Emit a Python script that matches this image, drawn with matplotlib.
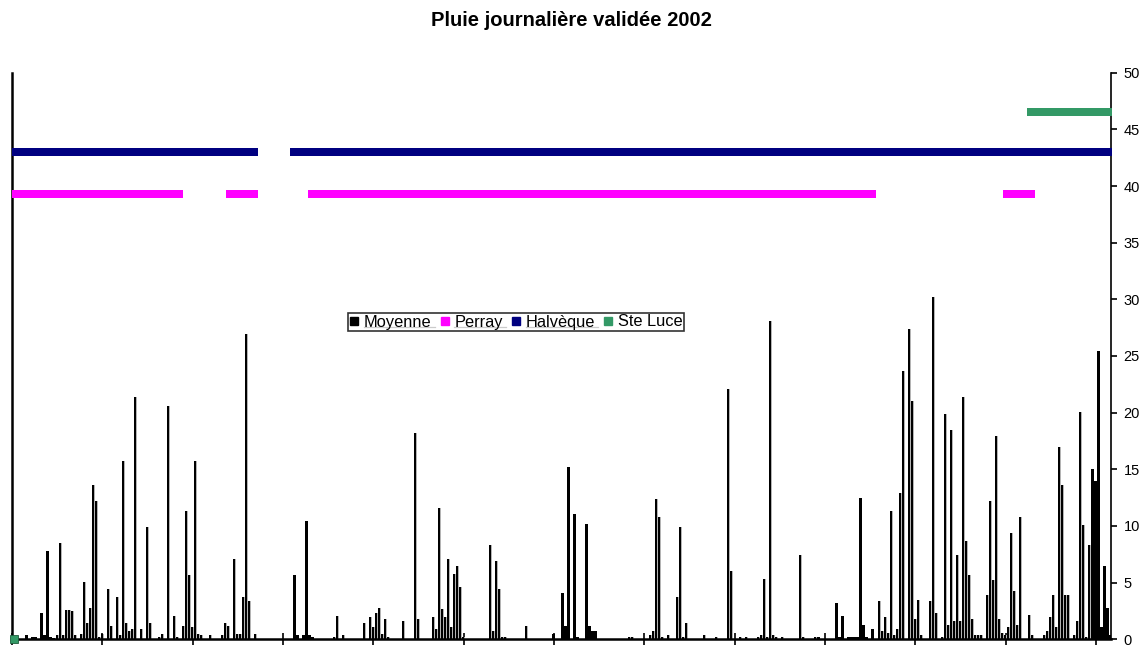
import matplotlib
matplotlib.use("Agg")
import matplotlib.pyplot as plt
import numpy as np
from matplotlib.lines import Line2D

plt.rcParams["font.family"] = ["Liberation Sans", "DejaVu Sans"]

TITLE = "Pluie journalière validée 2002"
N_DAYS = 365

# daily mean rainfall (mm), days with no rain are left out
RAIN_DAY = [
    4, 6, 7, 9, 10, 11, 12, 13, 14, 15, 16, 17, 18, 19, 20, 22, 23, 24, 25, 26,
    27, 28, 29, 31, 32, 34, 35, 36, 37, 38, 39, 40, 42, 44, 45, 48, 49, 51, 53, 54,
    56, 57, 58, 59, 60, 61, 62, 65, 69, 70, 71, 73, 74, 75, 76, 77, 78, 80,
    93, 94, 96, 97, 98, 99, 106, 107, 109, 116, 118, 119, 120, 121, 122, 123, 124,
    129, 133, 134, 139, 140, 141, 142, 143, 144, 145, 146, 147, 148, 149,
    158, 159, 160, 161, 162, 163, 170, 179, 182, 183, 184, 186, 187, 190, 191, 192, 193,
    204, 205, 211, 212, 213, 214, 215, 217, 220, 221, 222, 223, 229, 233, 237, 238,
    241, 243, 247, 248, 249, 250, 251, 252, 253, 255, 261, 262, 266, 267, 273, 274, 275,
    277, 278, 279, 280, 281, 282, 283, 285, 287, 288, 289, 290, 291, 292, 293, 294, 295,
    297, 298, 299, 300, 301, 304, 305, 306, 308, 309, 310, 311, 312, 313, 314, 315, 316,
    317, 318, 319, 320, 321, 323, 324, 325, 326, 327, 328, 329, 330, 331, 332, 333, 334,
    337, 338, 342, 343, 344, 345, 346, 347, 348, 349, 350, 352, 353, 354, 355, 356, 357,
    358, 359, 360, 361, 362, 363, 364,
]
RAIN_MM = [
    0.35, 0.2, 0.2, 2.3, 0.35, 7.8, 0.2, 0.15, 0.35, 8.5, 0.35, 2.6, 2.6, 2.5, 0.35, 0.5, 5.1, 1.4, 2.8, 13.6,
    12.2, 0.2, 0.5, 4.4, 1.2, 3.7, 0.35, 15.7, 1.4, 0.7, 0.9, 21.35, 0.9, 9.9, 1.4, 0.2, 0.5, 20.6, 2.1, 0.2,
    1.2, 11.3, 5.65, 1.06, 15.7, 0.5, 0.35, 0.35, 0.35, 1.4, 1.2, 7.06, 0.5, 0.5, 3.7, 26.9, 3.35, 0.5,
    5.65, 0.35, 0.35, 10.4, 0.35, 0.2, 0.2, 2.1, 0.35, 1.4, 1.94, 1.06, 2.3, 2.8, 0.5, 1.76, 0.2,
    1.6, 18.2, 1.76, 1.94, 0.9, 11.6, 2.65, 1.94, 7.06, 1.06, 5.8, 6.5, 4.6, 0.2,
    8.3, 0.7, 6.9, 4.4, 0.2, 0.2, 1.2, 0.5, 4.06, 1.2, 15.2, 11.1, 0.2, 10.2, 1.2, 0.7, 0.7,
    0.2, 0.2, 0.35, 0.7, 12.35, 10.8, 0.2, 0.35, 3.7, 9.9, 0.2, 1.4, 0.35, 0.2, 22.06, 6.0,
    0.2, 0.2, 0.2, 0.35, 5.3, 0.2, 28.1, 0.35, 0.2, 0.2, 7.4, 0.2, 0.2, 0.2, 3.2, 0.2, 2.1,
    0.2, 0.18, 0.18, 0.18, 12.5, 1.24, 0.18, 0.88, 3.35, 0.7, 1.94, 0.53, 11.3, 0.35, 0.88, 12.9, 23.65,
    27.35, 21.0, 1.76, 3.5, 0.35, 3.35, 30.2, 2.35, 0.18, 19.9, 1.24, 18.5, 1.6, 7.4, 1.6, 21.35, 8.65,
    5.7, 1.76, 0.35, 0.35, 0.35, 3.94, 12.2, 5.2, 17.9, 1.76, 0.53, 0.35, 1.06, 9.4, 4.3, 1.24, 10.8,
    2.18, 0.35, 0.35, 0.7, 1.94, 3.94, 1.06, 17.0, 13.65, 3.94, 3.94, 0.35, 1.6, 20.1, 10.06, 0.18, 8.35,
    15.0, 13.94, 25.4, 1.06, 6.5, 2.8, 0.35,
]

# validated-data periods per station: (first day, last day, plotted level)
PERRAY_PERIODS = [(0, 34, 39.3), (36, 55, 39.3), (72, 80, 39.3), (99, 285, 39.3), (330, 338, 39.3)]
HALVEQUE_PERIODS = [(0, 80, 43.0), (93, 364, 43.0)]
STE_LUCE_PERIODS = [(0, 0, 0.0), (338, 364, 46.5)]

COLORS = {
    "Moyenne": "#000000",
    "Perray": "#ff00ff",
    "Halvèque": "#000080",
    "Ste Luce": "#339966",
}


def period_series(periods):
    y = np.full(N_DAYS, np.nan)
    for first, last, level in periods:
        y[first:last + 1] = level
    return y


rain = np.zeros(N_DAYS)
rain[RAIN_DAY] = RAIN_MM
days = np.arange(N_DAYS)

fig = plt.figure(figsize=(11.43, 6.46), dpi=100)
ax = fig.add_axes([12 / 1143, 1 - 639.3 / 646, 1099 / 1143, 566.6 / 646])

# bars with a soft grey edge on the right
ax.bar(days + 0.45, rain, width=1.0, align="edge", color="#b4b4b4", linewidth=0, zorder=2)
ax.bar(days + 0.45, rain, width=0.74, align="edge", color=COLORS["Moyenne"], linewidth=0, zorder=3)

for name, periods in (
    ("Perray", PERRAY_PERIODS),
    ("Halvèque", HALVEQUE_PERIODS),
    ("Ste Luce", STE_LUCE_PERIODS),
):
    y = period_series(periods)
    on_axis = y == 0
    ax.plot(days + 0.5, np.where(on_axis, np.nan, y), ls="none", marker="s",
            ms=5.8, mfc=COLORS[name], mec=COLORS[name], mew=0, zorder=4)
    if on_axis.any():
        ax.plot(days[on_axis] + 0.5, y[on_axis], ls="none", marker="s", ms=5.8,
                mfc=COLORS[name], mec="#1d5c3b", mew=0.6, zorder=5, clip_on=False)

ax.set_xlim(0, N_DAYS)
ax.set_ylim(0, 50)
ax.set_xticks(np.arange(0, N_DAYS, 30))
ax.set_xticklabels([])
ax.tick_params(axis="x", direction="inout", length=8, width=1.2, color="black")

ax.yaxis.tick_right()
ax.set_yticks(np.arange(0, 51, 5))
ax.tick_params(axis="y", direction="out", length=4, width=1.2, labelsize=10.5, pad=5,
               right=True, left=False)

ax.spines["top"].set_visible(False)
for side in ("left", "bottom"):
    ax.spines[side].set_linewidth(1.8)
ax.spines["right"].set_linewidth(1.2)

fig.suptitle(TITLE, fontsize=14.5, fontweight="bold", x=571 / 1143, y=1 - 20 / 646, va="center")

handles = [
    Line2D([], [], ls="none", marker="s", ms=5.5, mfc=COLORS[name], mec=COLORS[name])
    for name in COLORS
]
leg = fig.legend(handles, list(COLORS), loc="center", bbox_to_anchor=(516 / 1143, 1 - 322 / 646),
                 ncol=4, fontsize=11.8, frameon=True, fancybox=False, shadow=False,
                 handlelength=0.6, handletextpad=0.3, columnspacing=0.5, borderpad=0.1,
                 borderaxespad=0)
leg.get_frame().set_edgecolor("black")
leg.get_frame().set_linewidth(1.2)

# underline the first three legend entries
fig.canvas.draw()
inv = fig.transFigure.inverted()
for txt in leg.get_texts()[:3]:
    bb = txt.get_window_extent()
    (x0, y0), (x1, _) = inv.transform([(bb.x0, bb.y0 + 2.5), (bb.x1 + 3, bb.y0)])
    fig.add_artist(Line2D([x0, x1], [y0, y0], color="black", lw=0.9, transform=fig.transFigure))

fig.savefig("out.png", dpi=100)
